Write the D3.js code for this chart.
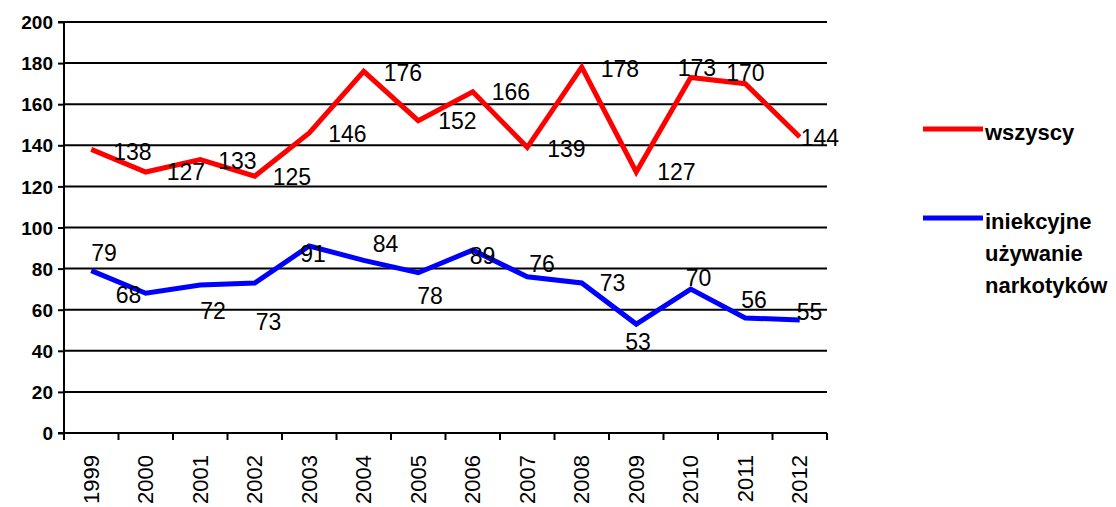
<!DOCTYPE html>
<html><head><meta charset="utf-8">
<script src="https://cdn.jsdelivr.net/npm/d3@7"></script>
<style>body{margin:0;background:#fff}</style>
</head><body>
<svg id="c" width="1116" height="507"></svg>
<script>
const years = ["1999","2000","2001","2002","2003","2004","2005","2006","2007","2008","2009","2010","2011","2012"];
const wszyscy = [138,127,133,125,146,176,152,166,139,178,127,173,170,144];
const iniekcyjne = [79,68,72,73,91,84,78,89,76,73,53,70,56,55];
const yTicks = [0,20,40,60,80,100,120,140,160,180,200];
const seriesNames = ["wszyscy", ["iniekcyjne","używanie","narkotyków"]];

// label offsets (layout only)
const redOff = [[22,3],[21,0],[18,1],[18,1],[19,1],[20,2],[20,0],[19,0],[20,2],[19,2],[21,0],[-13,-10],[-19,-11],[1,1]];
const blueOff = [[0,-18],[-30,2],[0,26],[1,39],[-9,8],[9,-16],[-1,23],[-3,6],[2,-13],[18,0],[-11,18],[-5,-11],[-4,-18],[-3,-8]];

const svg = d3.select("#c");
const L=64, R=827, T=22, B=433;
const x = d3.scaleBand().domain(years).range([L,R]);
const y = d3.scaleLinear().domain([0,200]).range([B,T]);
const FONT = "Liberation Sans, Arial, sans-serif";

// gridlines
svg.append("g").selectAll("line").data(yTicks.filter(d=>d>0)).join("line")
  .attr("x1",L).attr("x2",R).attr("y1",d=>y(d)).attr("y2",d=>y(d))
  .attr("stroke","#000").attr("stroke-width",2);

// y axis
const ya = svg.append("g").attr("transform",`translate(${L},0)`)
  .call(d3.axisLeft(y).tickValues(yTicks).tickSize(6).tickPadding(5));
ya.select(".domain").attr("stroke","#000").attr("stroke-width",2).attr("d",`M-6,${T}H0V${B}H-6`);
ya.selectAll(".tick line").attr("stroke","#000").attr("stroke-width",2);
ya.selectAll("text").attr("font-family",FONT).attr("font-weight","bold")
  .attr("font-size",19).attr("fill","#000").attr("dy","0.35em");

// x axis
const xa = svg.append("g").attr("transform",`translate(0,${B})`)
  .call(d3.axisBottom(x).tickSize(0).tickPadding(0));
xa.select(".domain").attr("stroke","#000").attr("stroke-width",2).attr("d",`M${L},0H${R}`);
xa.selectAll(".tick line").remove();
xa.selectAll(".tick text").attr("font-family",FONT).attr("font-size",22)
  .attr("fill","#000").attr("text-anchor","end").attr("transform","translate(0,22) rotate(-90)")
  .attr("x",0).attr("y",0).attr("dy","0.35em");
// boundary ticks
const bounds = years.map(d=>x(d)).concat([R]);
svg.append("g").selectAll("line").data(bounds).join("line")
  .attr("x1",d=>d).attr("x2",d=>d).attr("y1",B).attr("y2",B+7)
  .attr("stroke","#000").attr("stroke-width",2);

const cx = d=>x(d)+x.bandwidth()/2;
const line = d3.line().x((d,i)=>cx(years[i])).y(d=>y(d));

function series(vals, color, off){
  svg.append("path").datum(vals).attr("d",line).attr("fill","none")
    .attr("stroke",color).attr("stroke-width",5).attr("stroke-linejoin","miter");
  svg.append("g").selectAll("text").data(vals).join("text")
    .attr("x",(d,i)=>cx(years[i])+off[i][0]).attr("y",(d,i)=>y(d)+off[i][1])
    .attr("dy","0.35em").attr("font-family",FONT).attr("font-size",23)
    .attr("fill","#000").text(d=>d);
}
series(wszyscy,"#ff0000",redOff);
series(iniekcyjne,"#0000ff",blueOff);

// legend
const lg = svg.append("g").attr("font-family",FONT).attr("font-weight","bold").attr("font-size",22);
lg.append("line").attr("x1",923).attr("x2",983).attr("y1",129).attr("y2",129).attr("stroke","#ff0000").attr("stroke-width",5);
lg.append("text").attr("x",985).attr("y",132).attr("dy","0.35em").text(seriesNames[0]);
lg.append("line").attr("x1",923).attr("x2",983).attr("y1",218).attr("y2",218).attr("stroke","#0000ff").attr("stroke-width",5);
seriesNames[1].forEach((t,i)=>lg.append("text").attr("x",985).attr("y",221+i*32).attr("dy","0.35em").text(t));
</script>
</body></html>
